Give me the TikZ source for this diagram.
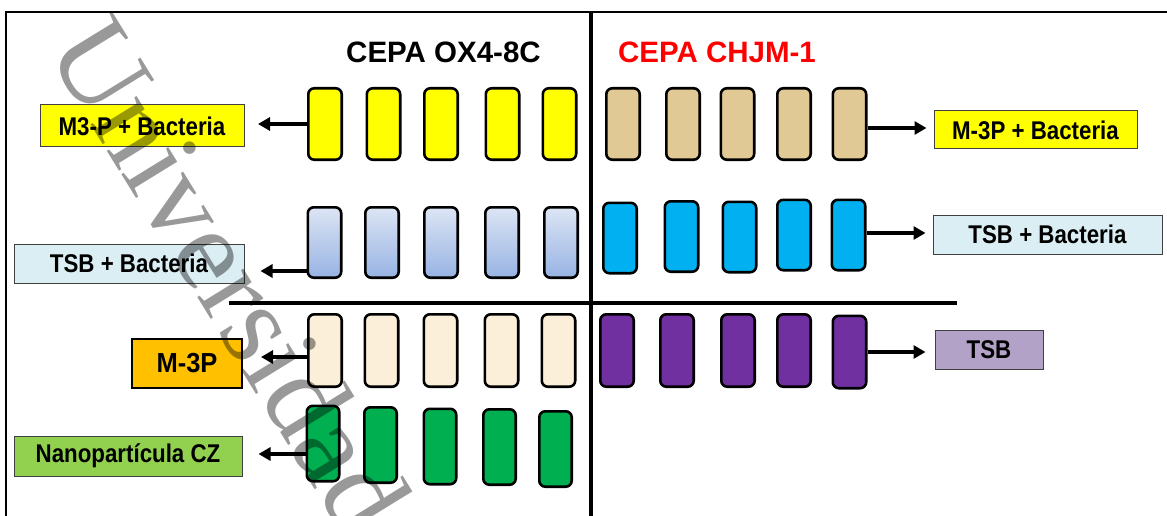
\documentclass[tikz,border=0pt]{standalone}
\usepackage{fontspec}
\usepackage{graphicx}
\setmainfont{Liberation Sans}
\newfontfamily\wmfont{Liberation Serif}
\usetikzlibrary{arrows.meta}
\definecolor{tyellow}{HTML}{FFFF00}
\definecolor{tbluetop}{HTML}{DDE5F4}
\definecolor{tbluebot}{HTML}{97B3E3}
\definecolor{tcream}{HTML}{FCEFDA}
\definecolor{tgreen}{HTML}{00B050}
\definecolor{ttan}{HTML}{E0C994}
\definecolor{tcyan}{HTML}{00B0F0}
\definecolor{tpurple}{HTML}{7030A0}
\definecolor{lblue}{HTML}{DAEEF3}
\definecolor{lorange}{HTML}{FFC000}
\definecolor{lgreen}{HTML}{92D050}
\definecolor{lpurple}{HTML}{B3A2C7}
\definecolor{tred}{HTML}{FF0000}
\newcommand{\stretchtxt}[1]{\scalebox{1}[1.15]{#1}}
\begin{document}
\begin{tikzpicture}[x=1pt,y=-1pt,
  tube/.style={draw=black, line width=2.6pt, rounded corners=6pt, inner sep=0pt, minimum width=33.4pt, minimum height=71.4pt},
  lbl/.style={draw=black!75, line width=1pt, inner sep=0pt, font=\bfseries\fontsize{22.3}{26}\selectfont},
  arr/.style={-{Triangle[length=12pt,width=13pt]}, line width=3.4pt},
  title/.style={font=\bfseries\fontsize{29.5}{34}\selectfont, anchor=base}
]
\useasboundingbox (0,0) rectangle (1167,516);

% frame and dividers
\draw[line width=2.5pt] (6,516) -- (6,12) -- (1167,12);
\draw[line width=4pt] (591,12) -- (591,516);
\draw[line width=4.5pt] (229,303) -- (957,303);

% titles
\node[title] (tA) at (443.5,63) {CEPA OX4-8C};
\node[title, text=tred] (tB) at (717,63) {CEPA CHJM-1};

% left: row 1 yellow
\foreach \i/\x in {1/325,2/383.5,3/441,4/502.5,5/559.5}
  \node[tube, fill=tyellow] (a\i) at (\x,124) {};
% row 2 blue gradient
\foreach \i/\x in {1/324.5,2/382,3/441,4/502,5/561}
  \node[tube, top color=tbluetop, bottom color=tbluebot, minimum height=70.4pt] (b\i) at (\x,242.5) {};
% row 3 cream
\foreach \i/\x in {1/325,2/381.5,3/440.5,4/501.5,5/558.5}
  \node[tube, fill=tcream, minimum height=72.4pt] (c\i) at (\x,350.5) {};
% row 4 green
\foreach \i/\x/\y in {1/323/443.5,2/380.5/445,3/440/446.5,4/499.5/447,5/555.5/449}
  \node[tube, fill=tgreen, minimum height=75.4pt, minimum width=32.4pt] (d\i) at (\x,\y) {};

% right: row 1 tan
\foreach \i/\x in {1/623,2/683,3/737.5,4/794,5/849.5}
  \node[tube, fill=ttan] (e\i) at (\x,124) {};
% row 2 cyan
\foreach \i/\x/\y in {1/620/238,2/681.5/236.5,3/739.5/237,4/794/235,5/848.5/235}
  \node[tube, fill=tcyan, minimum height=70.4pt] (f\i) at (\x,\y) {};
% row 3 purple
\foreach \i/\x/\y in {1/617/350.5,2/677/350.5,3/738/350.5,4/794/350.5,5/849.5/352}
  \node[tube, fill=tpurple, minimum height=72.4pt] (g\i) at (\x,\y) {};

% labels left
\node[lbl, fill=tyellow, minimum width=204pt, minimum height=42pt] (l1) at (142,126) {\stretchtxt{M3-P + Bacteria}};
\node[lbl, fill=lblue, minimum width=230pt, minimum height=39pt] (l2) at (129,263.5) {\stretchtxt{TSB + Bacteria}};
\node[lbl, fill=lorange, draw=black, line width=2pt, minimum width=110pt, minimum height=49pt, font=\bfseries\fontsize{25.5}{30}\selectfont] (l3) at (187,363.5) {\scalebox{1}[1.08]{M-3P}};
\node[lbl, fill=lgreen, minimum width=228pt, minimum height=40pt] (l4) at (128,456) {\stretchtxt{Nanopartícula CZ}};

% labels right
\node[lbl, fill=tyellow, minimum width=203pt, minimum height=38pt] (r1) at (1035.5,130) {\stretchtxt{M-3P + Bacteria}};
\node[lbl, fill=lblue, minimum width=229pt, minimum height=39pt] (r2) at (1047.5,234.5) {\stretchtxt{TSB + Bacteria}};
\node[lbl, fill=lpurple, minimum width=108pt, minimum height=39pt] (r3) at (989,349.5) {\stretchtxt{TSB}};

% arrows left
\coordinate (pa) at ([yshift=0pt]a1.west);
\draw[arr, shorten >=13.5pt] (pa) -- (pa -| l1.east);
\coordinate (pb) at ([yshift=-28.5pt]b1.west);
\draw[arr, shorten >=16pt] (pb) -- (pb -| l2.east);
\coordinate (pc) at ([yshift=-6.5pt]c1.west);
\draw[arr, shorten >=18pt] (pc) -- (pc -| l3.east);
\coordinate (pd) at ([yshift=-10.5pt]d1.west);
\draw[arr, shorten >=16pt] (pd) -- (pd -| l4.east);

% arrows right
\coordinate (qe) at ([yshift=-4pt]e5.east);
\draw[arr, shorten >=7pt] (qe) -- (qe -| r1.west);
\coordinate (qf) at ([yshift=2pt]f5.east);
\draw[arr, shorten >=7pt] (qf) -- (qf -| r2.west);
\coordinate (qg) at ([yshift=0pt]g5.east);
\draw[arr, shorten >=9pt] (qg) -- (qg -| r3.west);

% watermark
\node[font=\wmfont\fontsize{118}{118}\selectfont, text=black, opacity=0.4, rotate=-58.4, anchor=base west, inner sep=0pt] (wm) at (45,50) {Universidad};
\end{tikzpicture}
\end{document}
